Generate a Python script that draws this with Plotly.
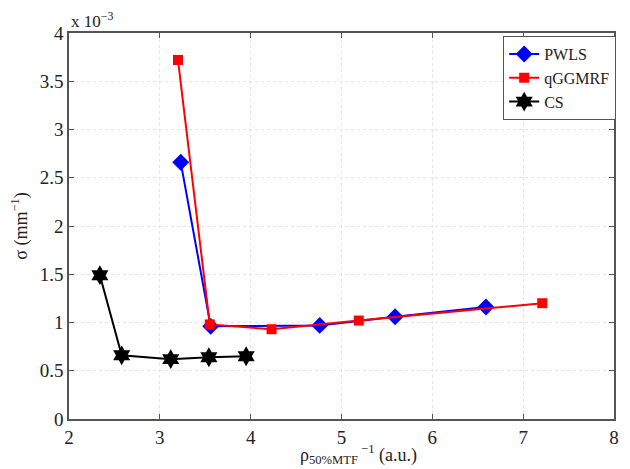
import plotly.graph_objects as go

# values in units of 1e-3 mm^-1
pwls_x = [3.23, 3.56, 4.76, 5.59, 6.59]
pwls_y = [2.66, 0.96, 0.97, 1.06, 1.16]
qgg_x = [3.20, 3.55, 4.23, 5.19, 7.21]
qgg_y = [3.72, 0.98, 0.93, 1.02, 1.20]
cs_x = [2.34, 2.58, 3.12, 3.54, 3.95]
cs_y = [1.49, 0.66, 0.62, 0.64, 0.65]

xticks = [2, 3, 4, 5, 6, 7, 8]
yticks = [0, 0.5, 1, 1.5, 2, 2.5, 3, 3.5, 4]
yticklabels = ["0", "0.5", "1", "1.5", "2", "2.5", "3", "3.5", "4"]

FONT = "Liberation Serif"

fig = go.Figure()
fig.add_trace(go.Scatter(x=pwls_x, y=pwls_y, name="PWLS", mode="lines+markers",
                         line=dict(color="#0000ff", width=2),
                         marker=dict(symbol="diamond", size=13, color="#0000ff")))
fig.add_trace(go.Scatter(x=qgg_x, y=qgg_y, name="qGGMRF", mode="lines+markers",
                         line=dict(color="#ff0000", width=2),
                         marker=dict(symbol="square", size=10, color="#ff0000")))
fig.add_trace(go.Scatter(x=cs_x, y=cs_y, name="CS", mode="lines+markers",
                         line=dict(color="#000000", width=2),
                         marker=dict(symbol="hexagram", size=15, color="#000000")))

axis_common = dict(showline=True, linecolor="#555555", linewidth=1.5, mirror="ticks",
                   ticks="inside", ticklen=5, tickcolor="#555555",
                   showgrid=True, gridcolor="#e4e4e4", griddash="dot", gridwidth=1,
                   zeroline=False, tickfont=dict(family=FONT, size=19, color="#222222"))

# page body has an 8px default margin, so the figure is 8px smaller
fig.update_layout(
    width=622, height=461,
    margin=dict(l=58, r=11, t=25, b=50),
    paper_bgcolor="white", plot_bgcolor="white",
    font=dict(family=FONT, size=17, color="#222222"),
    xaxis=dict(range=[2, 8], tickvals=xticks, **axis_common),
    yaxis=dict(range=[0, 4], tickvals=yticks, ticktext=yticklabels,
               title=dict(text="σ (mm<sup>−1</sup>)", standoff=8,
                          font=dict(family=FONT, size=18)),
               **axis_common),
    legend=dict(x=1.004, y=0.992, xanchor="right", yanchor="top",
                bgcolor="white", bordercolor="#555555", borderwidth=1,
                font=dict(family=FONT, size=16, color="#222222"),
                itemwidth=30, tracegroupgap=0),
    showlegend=True,
)
fig.add_annotation(text="x 10<sup>−3</sup>", xref="paper", yref="paper", x=0.0, y=1.0,
                   xanchor="left", yanchor="bottom", showarrow=False,
                   font=dict(family=FONT, size=17, color="#222222"))
fig.add_annotation(text="ρ<sub>50%MTF</sub><sup> −1</sup> (a.u.)", xref="paper", yref="paper",
                   x=0.42, y=-0.093, xanchor="left", yanchor="middle", showarrow=False,
                   font=dict(family=FONT, size=18, color="#222222"))

fig.write_html("out.html")
